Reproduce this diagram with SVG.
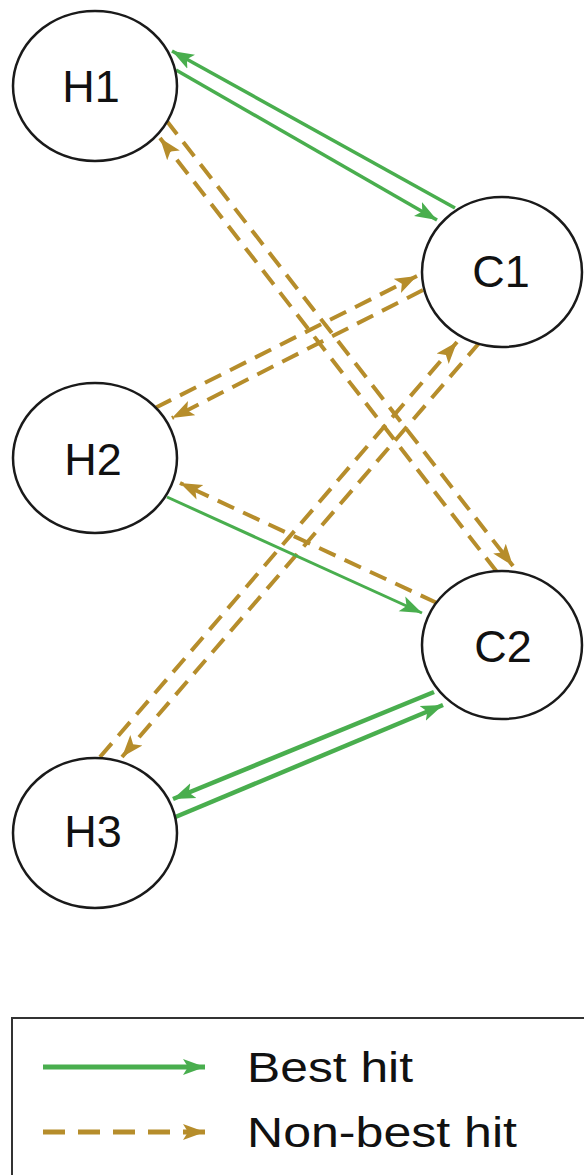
<svg xmlns="http://www.w3.org/2000/svg" width="584" height="1175" viewBox="0 0 584 1175">
<style>
.node{fill:#fff;stroke:#1a1a1a;stroke-width:2.5}
.lbl{font-family:"Liberation Sans",Arial,sans-serif;font-size:45px;fill:#111;text-anchor:middle}
.best{stroke:#49ae4e;fill:none;stroke-width:3.5}
.non{stroke:#b68d2b;fill:none;stroke-width:4;stroke-dasharray:18 10}
.leg{font-family:"Liberation Sans",Arial,sans-serif;font-size:42px;fill:#111}
</style>
<defs>
<marker id="ag" markerUnits="userSpaceOnUse" markerWidth="24" markerHeight="18" refX="22" refY="8" orient="auto" viewBox="0 0 24 16">
<path d="M0,0 L22,8 L0,16 L5,8 z" fill="#49ae4e"/>
</marker>
<marker id="ao" markerUnits="userSpaceOnUse" markerWidth="24" markerHeight="18" refX="22" refY="8" orient="auto" viewBox="0 0 24 16">
<path d="M0,0 L22,8 L0,16 L5,8 z" fill="#b68d2b"/>
</marker>
</defs>
<g id="connectors">
<line class="best" x1="455" y1="208" x2="172" y2="51" marker-end="url(#ag)"/>
<line class="best" x1="176" y1="70" x2="437" y2="220" marker-end="url(#ag)"/>
<line class="non" x1="166" y1="120" x2="513" y2="566" marker-end="url(#ao)"/>
<line class="non" x1="497" y1="572" x2="160" y2="138" marker-end="url(#ao)"/>
<line class="non" x1="155" y1="408" x2="417" y2="276" marker-end="url(#ao)"/>
<line class="non" x1="423" y1="290" x2="172" y2="418" marker-end="url(#ao)"/>
<line class="non" x1="100" y1="757" x2="457" y2="342" marker-end="url(#ao)"/>
<line class="non" x1="480" y1="342" x2="122" y2="757" marker-end="url(#ao)"/>
<line class="non" x1="437" y1="603" x2="180" y2="483" marker-end="url(#ao)"/>
<line class="best" style="stroke-width:3" x1="167" y1="497" x2="422" y2="613" marker-end="url(#ag)"/>
<line class="best" style="stroke-width:4.5" x1="434" y1="692" x2="173" y2="799" marker-end="url(#ag)"/>
<line class="best" style="stroke-width:4.5" x1="173" y1="818" x2="443" y2="705" marker-end="url(#ag)"/>
</g>
<g id="H1"><ellipse class="node" cx="95" cy="86" rx="82" ry="75"/><text class="lbl" x="91" y="102">H1</text></g>
<g id="H2"><ellipse class="node" cx="95" cy="458" rx="82" ry="75"/><text class="lbl" x="93" y="475">H2</text></g>
<g id="H3"><ellipse class="node" cx="95" cy="833" rx="82" ry="75"/><text class="lbl" x="93" y="847">H3</text></g>
<g id="C1"><ellipse class="node" cx="502" cy="272" rx="80" ry="75"/><text class="lbl" x="501" y="287">C1</text></g>
<g id="C2"><ellipse class="node" cx="502" cy="645" rx="80" ry="74"/><text class="lbl" x="503" y="662">C2</text></g>
<g id="legend">
<rect x="12" y="1018" width="600" height="200" fill="none" stroke="#333" stroke-width="2"/>
<line class="best" x1="43" y1="1067" x2="205" y2="1067" style="stroke-width:5" marker-end="url(#ag)"/>
<line class="non" x1="43" y1="1132" x2="205" y2="1132" style="stroke-width:5;stroke-dasharray:22 13" marker-end="url(#ao)"/>
<text class="leg" x="247" y="1082" textLength="166" lengthAdjust="spacingAndGlyphs">Best hit</text>
<text class="leg" x="247" y="1147" textLength="270" lengthAdjust="spacingAndGlyphs">Non-best hit</text>
</g>
</svg>
